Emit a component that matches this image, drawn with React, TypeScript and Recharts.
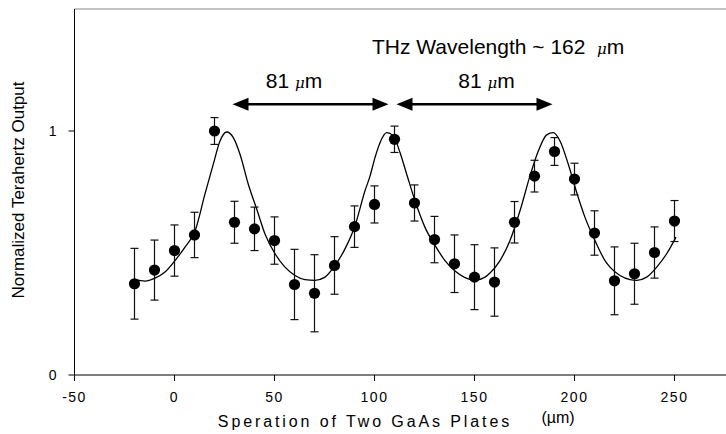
import {
  ComposedChart,
  Scatter,
  Line,
  XAxis,
  YAxis,
  ErrorBar,
  ReferenceLine,
  ReferenceDot,
} from "recharts";

const FONT = "'Liberation Sans', Arial, Helvetica, sans-serif";

// measured points (separation in µm, normalized output, error half-height)
const separation = [-20, -10, 0, 10, 20, 30, 40, 50, 60, 70, 80, 90, 100, 110, 120, 130, 140, 150, 160, 170, 180, 190, 200, 210, 220, 230, 240, 250];
const output = [0.374, 0.43, 0.51, 0.574, 1.0, 0.626, 0.599, 0.551, 0.371, 0.335, 0.449, 0.608, 0.699, 0.966, 0.705, 0.555, 0.456, 0.401, 0.381, 0.626, 0.815, 0.916, 0.803, 0.582, 0.386, 0.415, 0.502, 0.631];
const outputErr = [0.145, 0.123, 0.105, 0.093, 0.055, 0.086, 0.089, 0.097, 0.144, 0.158, 0.118, 0.085, 0.076, 0.054, 0.074, 0.095, 0.118, 0.133, 0.14, 0.085, 0.065, 0.057, 0.065, 0.091, 0.139, 0.125, 0.105, 0.084];

// fitted curve
const fitX = [-20, -14.75, -9.75, -4.75, 0.25, 5.25, 10.25, 15.25, 19.4, 22.75, 26.1, 29.4, 32.75, 36.9, 41.1, 45.25, 50.25, 55.25, 60.25, 65.25, 70.25, 75.25, 80.25, 85.25, 90.25, 95.25, 97.75, 100.25, 102.75, 106.1, 109.4, 112.75, 116.1, 120.25, 125.25, 130.25, 135.25, 140.25, 145.25, 150.25, 155.25, 157.75, 162.75, 167.75, 172.75, 177.75, 181.9, 186.1, 189.4, 192.75, 196.9, 201.1, 205.25, 210.25, 215.25, 217.75, 222.75, 227.75, 231.1, 236.1, 241.1, 246.1, 250.75];
const fitY = [0.392, 0.385, 0.397, 0.422, 0.469, 0.524, 0.59, 0.742, 0.864, 0.959, 0.996, 0.973, 0.905, 0.782, 0.68, 0.578, 0.497, 0.442, 0.408, 0.391, 0.388, 0.401, 0.449, 0.517, 0.612, 0.755, 0.815, 0.891, 0.952, 0.993, 0.98, 0.912, 0.823, 0.714, 0.605, 0.531, 0.469, 0.426, 0.399, 0.388, 0.401, 0.418, 0.469, 0.551, 0.673, 0.816, 0.918, 0.984, 0.993, 0.959, 0.864, 0.748, 0.646, 0.551, 0.469, 0.442, 0.408, 0.391, 0.388, 0.401, 0.442, 0.497, 0.565];

const xTicks = [-50, 0, 50, 100, 150, 200, 250];
const yTicks = [0, 1];

// annotation anchors in data units
const arrowSpans = [
  [29, 107],
  [111, 189],
];
const arrowLevel = 1.11;
const spacingLabelX = [59.75, 156];
const spacingLabelY = 1.21;
const titlePos = { x: 98.75, y: 1.347 };

const Mu = () => <tspan fontStyle="italic" fontFamily="'DejaVu Serif', serif" fontSize={15}>μ</tspan>;

const DoubleArrow = (p: any) => {
  const { x1, y1, x2, y2 } = p;
  const L = 16;
  const H = 6.5;
  return (
    <g>
      <line x1={x1 + L - 1} y1={y1} x2={x2 - L + 1} y2={y2} stroke="#000" strokeWidth={2.5} />
      <polygon points={`${x1},${y1} ${x1 + L},${y1 - H} ${x1 + L},${y1 + H}`} fill="#000" />
      <polygon points={`${x2},${y2} ${x2 - L},${y2 - H} ${x2 - L},${y2 + H}`} fill="#000" />
    </g>
  );
};

const XTick = (p: any) => (
  <text
    x={p.x}
    y={p.y + 9}
    textAnchor="middle"
    fontFamily={FONT}
    fontSize={14}
    letterSpacing={1.5}
    fill="#000"
    dy="0.71em"
  >
    {p.payload.value}
  </text>
);

export default function App() {
  const points = separation.map((x, i) => ({ x, y: output[i], err: outputErr[i] }));
  const fit = fitX.map((x, i) => ({ x, y: fitY[i] }));

  return (
    <div
      style={{
        position: "absolute",
        left: 0,
        top: 0,
        width: 726,
        height: 434,
        overflow: "hidden",
        background: "#fff",
        fontFamily: FONT,
      }}
    >
      <ComposedChart width={800} height={434} margin={{ top: 9, right: 25.5, bottom: 29, left: 14.5 }}>
        <XAxis
          type="number"
          dataKey="x"
          domain={[-50, 300]}
          ticks={xTicks}
          allowDataOverflow
          height={30}
          stroke="#000"
          tickSize={6}
          tick={<XTick />}
          label={{
            content: () => (
              <g>
                <text x={365} y={427} textAnchor="middle" fontFamily={FONT} fontSize={16} letterSpacing={2.9} fill="#000">
                  Speration of Two GaAs Plates
                </text>
                <text x={558} y={423} textAnchor="middle" fontFamily={FONT} fontSize={16} fill="#000">
                  (µm)
                </text>
              </g>
            ),
          }}
        />
        <YAxis
          type="number"
          domain={[0, 1.5]}
          ticks={yTicks}
          allowDataOverflow
          width={60}
          stroke="#000"
          tickSize={6}
          tickMargin={12}
          tick={{ fill: "#000", fontSize: 14, fontFamily: FONT }}
          label={{
            content: () => (
              <text
                x={18}
                y={190}
                transform="rotate(-90 18 190)"
                textAnchor="middle"
                dominantBaseline="central"
                fontFamily={FONT}
                fontSize={17}
                fill="#000"
              >
                Normalized Terahertz Output
              </text>
            ),
          }}
        />
        <ReferenceLine y={1.5} stroke="#888" strokeWidth={1.2} />
        {arrowSpans.map(([a, b], i) => (
          <ReferenceLine
            key={i}
            segment={[
              { x: a, y: arrowLevel },
              { x: b, y: arrowLevel },
            ]}
            shape={DoubleArrow}
          />
        ))}
        {spacingLabelX.map((lx, i) => (
          <ReferenceDot
            key={i}
            x={lx}
            y={spacingLabelY}
            r={0}
            shape={(p: any) => (
              <text x={p.cx} y={p.cy + 8} textAnchor="middle" fontFamily={FONT} fontSize={21} fill="#000">
                81 <Mu />m
              </text>
            )}
          />
        ))}
        <ReferenceDot
          x={titlePos.x}
          y={titlePos.y}
          r={0}
          shape={(p: any) => (
            <text x={p.cx} y={p.cy + 8} textAnchor="start" fontFamily={FONT} fontSize={21} fill="#000">
              THz Wavelength ~ 162{"\u00a0\u00a0"}<Mu />m
            </text>
          )}
        />
        <Line
          data={fit}
          dataKey="y"
          type="monotone"
          stroke="#000"
          strokeWidth={1.3}
          dot={false}
          activeDot={false}
          isAnimationActive={false}
        />
        <Scatter
          data={points}
          dataKey="y"
          fill="#000"
          isAnimationActive={false}
          shape={(p: any) => <circle cx={p.cx} cy={p.cy} r={5.6} fill="#000" />}
        >
          <ErrorBar dataKey="err" direction="y" width={4} stroke="#111" strokeWidth={1.2} />
        </Scatter>
      </ComposedChart>
    </div>
  );
}
